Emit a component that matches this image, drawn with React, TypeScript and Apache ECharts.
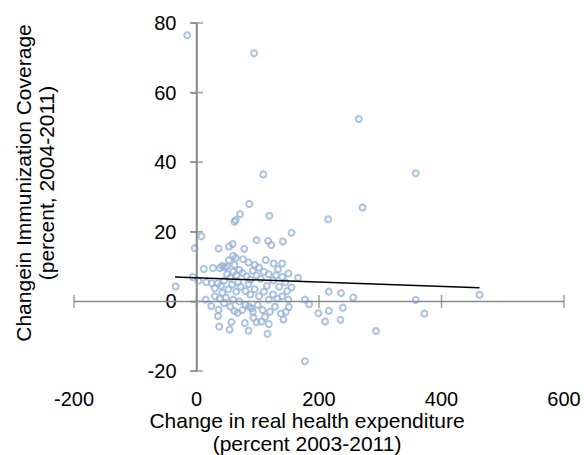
import React, { useEffect, useRef } from "react";
import * as echarts from "echarts";

const xTickValues = [-200, 0, 200, 400, 600];
const yTickValues = [-20, 0, 20, 40, 60, 80];

const xTitle = "Change in real health expenditure\n(percent 2003-2011)";
const yTitle = "Changein Immunization Coverage\n(percent, 2004-2011)";

// [health expenditure change %, immunization coverage change %]
const outliers: [number, number][] = [
  [-15, 76.5], [94, 71.3], [109, 36.5], [265, 52.4], [358, 36.8], [271, 27],
  [215, 23.6], [462, 1.9], [358, 0.4], [372, -3.5], [293, -8.5], [177, -17.2],
  [-34, 4.3], [-6, 7.0], [-3, 15.3], [8, 18.7], [86, 28], [71, 25.1], [64, 23.4],
  [62, 22.9], [119, 24.6], [155, 19.7], [98, 17.6], [117, 17.4], [122, 16.2],
  [141, 17.2], [36, 15.2], [53, 15.8], [59, 16.5], [78, 15.1],
];
const rightGroup: [number, number][] = [
  [216, 2.8], [236, 2.4], [256, 1.1], [177, 0.5], [184, -0.8], [239, -1.8],
  [216, -2.7], [199, -3.4], [235, -5.3], [210, -5.8], [166, 6.8],
];
const leftGroup: [number, number][] = [
  [3, 5.9], [16, 5.5], [25, 5.2], [15, 0.5], [24, -1.3], [36, -2.4], [35, -4.2],
  [37, -7.2], [54, -8.1], [57, -5.9], [79, -6.2], [85, -8.4], [116, -9.3],
  [151, -1.6], [142, -5.2], [93, -4.7], [67, -3.3], [48, 1.1], [12, 9.3],
  [27, 9.6], [38, 9.6], [42, 10.2], [46, 9.8], [53, 11.8], [60, 13.1],
  [64, 12.5], [76, 12.1], [85, 11.2], [102, 9.7], [113, 11.9], [126, 10.9],
  [140, 10.9], [133, 9.2],
];
const denseCluster: [number, number][] = [
  [130, 7.5], [140, 7.0], [150, 8.0], [145, 5.5], [135, 4.2], [148, 3.0],
  [155, 4.0], [125, 6.0], [118, 7.8], [110, 8.5], [105, 6.5], [98, 7.5],
  [92, 8.8], [88, 6.2], [82, 7.2], [75, 8.2], [70, 9.0], [65, 7.5], [60, 8.5],
  [55, 6.8], [50, 7.8], [45, 6.0], [40, 4.5], [35, 5.2], [30, 3.8], [42, 2.5],
  [52, 3.5], [58, 4.8], [65, 2.8], [72, 4.2], [80, 3.0], [88, 2.0], [95, 3.5],
  [102, 1.5], [110, 2.8], [118, 0.5], [125, 2.0], [132, 0.8], [140, 1.5],
  [150, 0.5], [100, -1.0], [108, -2.5], [112, -4.5], [106, -5.8], [118, -6.5],
  [120, -3.0], [128, -1.5], [138, -3.5], [146, -3.0], [90, -2.0], [80, -1.0],
  [75, -2.5], [70, 0.0], [60, 0.5], [55, -1.5], [62, -2.8], [45, -0.5],
  [38, 0.8], [30, 1.5], [68, 5.5], [85, 5.0], [95, 10.5], [115, 4.5],
  [62, 10.5], [50, 10.0], [92, -3.0], [98, -6.0], [86, -1.5],
];
// linear trendline endpoints
const trendLine: [number, number][] = [[-35, 7.0], [462, 3.9]];

const FONT = "'Liberation Sans', Arial, sans-serif";
const AXIS_COLOR = "#8a8a8a";
const MARKER_COLOR = "#95B3D7";

const W = 584, H = 455;
const GRID = { left: 74, right: 20, top: 23, bottom: 84 };

export default function App() {
  const ref = useRef<HTMLDivElement>(null);
  useEffect(() => {
    if (!ref.current) return;
    const chart = echarts.init(ref.current, null, { renderer: "svg" });
    const xMin = xTickValues[0], xMax = xTickValues[xTickValues.length - 1];
    const yMin = yTickValues[0], yMax = yTickValues[yTickValues.length - 1];
    const xInterval = xTickValues[1] - xTickValues[0];
    const yInterval = yTickValues[1] - yTickValues[0];
    const plotW = W - GRID.left - GRID.right;
    // distance of the x = 0 line from the left edge of the plot
    const zeroShift = plotW * (0 - xMin) / (xMax - xMin);
    chart.setOption({
      animation: false,
      grid: { left: GRID.left, right: GRID.right, top: GRID.top, bottom: GRID.bottom },
      xAxis: {
        type: "value", min: xMin, max: xMax, interval: xInterval,
        axisLine: { show: false, onZero: false }, axisTick: { show: false },
        axisLabel: { color: "#000", fontSize: 20, fontFamily: FONT, margin: 18 },
        splitLine: { show: false },
      },
      yAxis: [
        {
          type: "value", min: yMin, max: yMax, interval: yInterval,
          axisLine: { show: false, onZero: false }, axisTick: { show: false },
          axisLabel: { color: "#000", fontSize: 20, fontFamily: FONT, margin: 20 - zeroShift },
          splitLine: { show: false },
        },
        {
          type: "value", min: yMin, max: yMax, interval: yInterval, position: "left",
          axisLine: { show: true, onZero: true, onZeroAxisIndex: 0, lineStyle: { color: AXIS_COLOR, width: 1.5 } },
          axisTick: { show: true, length: 6, lineStyle: { color: AXIS_COLOR, width: 1.5 } },
          axisLabel: { show: false },
          splitLine: { show: false },
        },
      ],
      graphic: [
        {
          type: "text", x: 307, y: 432,
          style: { text: xTitle, fontSize: 21, fontFamily: FONT, fill: "#000", align: "center", verticalAlign: "middle", lineHeight: 23 },
        },
        {
          type: "text", x: 35, y: 183, rotation: Math.PI / 2,
          style: { text: yTitle, fontSize: 21, fontFamily: FONT, fill: "#000", align: "center", verticalAlign: "middle", lineHeight: 23 },
        },
      ],
      series: [
        { type: "line", data: [[xMin, 0], [xMax, 0]], symbol: "none", lineStyle: { color: AXIS_COLOR, width: 1.5 } },
        { type: "line", data: [[0, yMin], [0, yMax]], symbol: "none", lineStyle: { color: AXIS_COLOR, width: 1.5 } },
        { type: "scatter", data: xTickValues.map((v) => [v, 0]), symbol: "rect", symbolSize: [1.5, 13], itemStyle: { color: AXIS_COLOR } },
        { type: "scatter", data: yTickValues.map((v) => [0, v]), symbol: "rect", symbolSize: [13, 1.5], itemStyle: { color: AXIS_COLOR } },
        {
          type: "scatter",
          data: [...outliers, ...rightGroup, ...leftGroup, ...denseCluster],
          symbol: "circle", symbolSize: 6,
          itemStyle: { color: "rgba(255,255,255,0)", borderColor: MARKER_COLOR, borderWidth: 2 },
        },
        { type: "line", data: trendLine, symbol: "none", lineStyle: { color: "#000", width: 1.5 } },
      ],
    });
    return () => chart.dispose();
  }, []);
  return <div ref={ref} style={{ width: W, height: H, position: "absolute", left: 0, top: 0 }} />;
}
